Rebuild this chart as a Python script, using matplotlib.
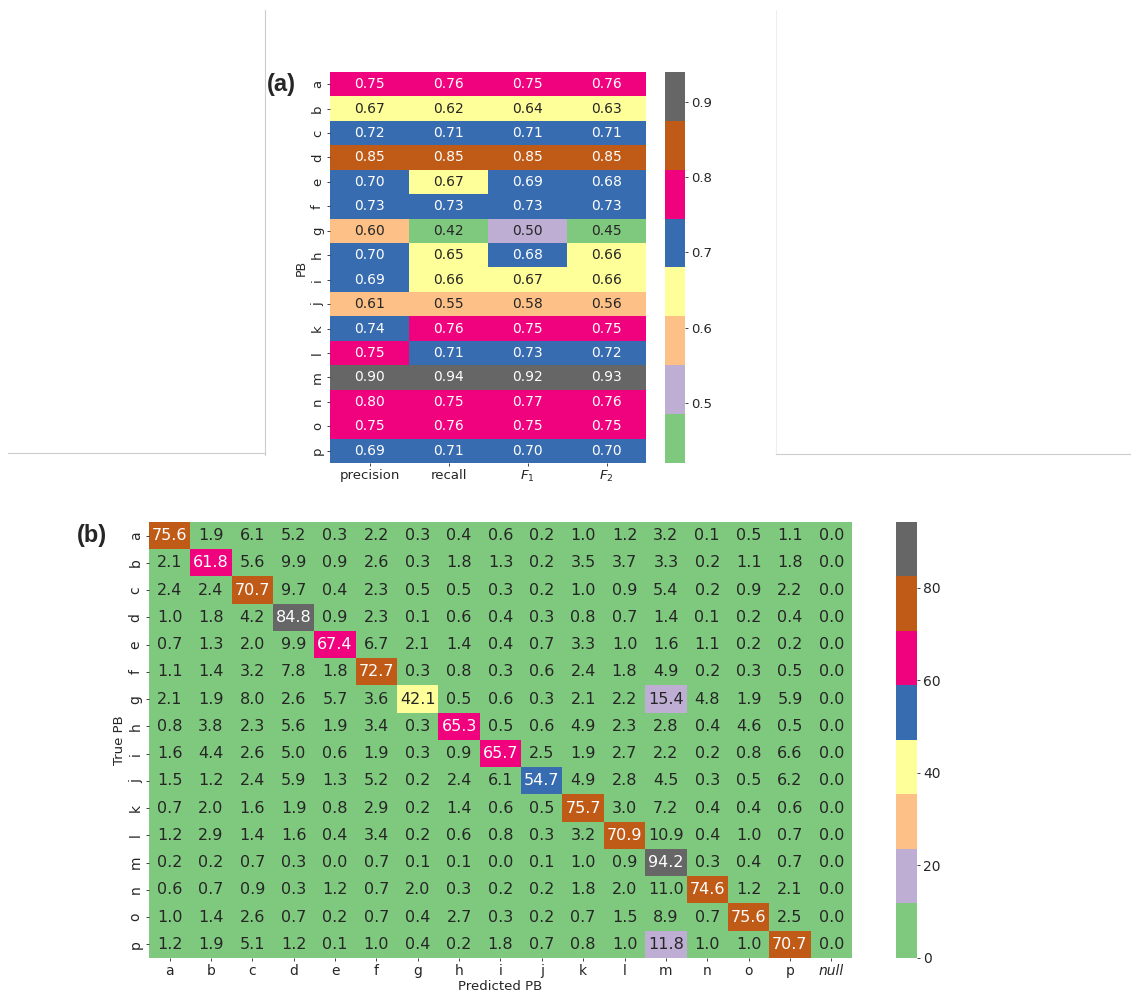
import matplotlib
matplotlib.use("Agg")
import matplotlib.pyplot as plt
from matplotlib.lines import Line2D
import numpy as np
import seaborn as sns

plt.rcParams["font.family"] = ["DejaVu Sans"]
plt.rcParams["text.color"] = "#262626"
plt.rcParams["axes.labelcolor"] = "#262626"
plt.rcParams["xtick.color"] = "#262626"
plt.rcParams["ytick.color"] = "#262626"

PB = list("abcdefghijklmnop")
METRICS = ["precision", "recall", "$F_1$", "$F_2$"]
PRED_LABELS = PB + ["null"]

# per-PB scores: precision, recall, F1, F2
PRECISION = [0.75, 0.67, 0.72, 0.85, 0.70, 0.73, 0.60, 0.70, 0.69, 0.61, 0.74, 0.75, 0.90, 0.80, 0.75, 0.69]
RECALL = [0.76, 0.62, 0.71, 0.85, 0.67, 0.73, 0.42, 0.65, 0.66, 0.55, 0.76, 0.71, 0.94, 0.75, 0.76, 0.71]
F1 = [0.75, 0.64, 0.71, 0.85, 0.69, 0.73, 0.50, 0.68, 0.67, 0.58, 0.75, 0.73, 0.92, 0.77, 0.75, 0.70]
F2 = [0.76, 0.63, 0.71, 0.85, 0.68, 0.73, 0.45, 0.66, 0.66, 0.56, 0.75, 0.72, 0.93, 0.76, 0.75, 0.70]

# confusion matrix (%) rows = true PB, cols = predicted PB + null
CONF = [
    [75.6, 1.9, 6.1, 5.2, 0.3, 2.2, 0.3, 0.4, 0.6, 0.2, 1.0, 1.2, 3.2, 0.1, 0.5, 1.1, 0.0],
    [2.1, 61.8, 5.6, 9.9, 0.9, 2.6, 0.3, 1.8, 1.3, 0.2, 3.5, 3.7, 3.3, 0.2, 1.1, 1.8, 0.0],
    [2.4, 2.4, 70.7, 9.7, 0.4, 2.3, 0.5, 0.5, 0.3, 0.2, 1.0, 0.9, 5.4, 0.2, 0.9, 2.2, 0.0],
    [1.0, 1.8, 4.2, 84.8, 0.9, 2.3, 0.1, 0.6, 0.4, 0.3, 0.8, 0.7, 1.4, 0.1, 0.2, 0.4, 0.0],
    [0.7, 1.3, 2.0, 9.9, 67.4, 6.7, 2.1, 1.4, 0.4, 0.7, 3.3, 1.0, 1.6, 1.1, 0.2, 0.2, 0.0],
    [1.1, 1.4, 3.2, 7.8, 1.8, 72.7, 0.3, 0.8, 0.3, 0.6, 2.4, 1.8, 4.9, 0.2, 0.3, 0.5, 0.0],
    [2.1, 1.9, 8.0, 2.6, 5.7, 3.6, 42.1, 0.5, 0.6, 0.3, 2.1, 2.2, 15.4, 4.8, 1.9, 5.9, 0.0],
    [0.8, 3.8, 2.3, 5.6, 1.9, 3.4, 0.3, 65.3, 0.5, 0.6, 4.9, 2.3, 2.8, 0.4, 4.6, 0.5, 0.0],
    [1.6, 4.4, 2.6, 5.0, 0.6, 1.9, 0.3, 0.9, 65.7, 2.5, 1.9, 2.7, 2.2, 0.2, 0.8, 6.6, 0.0],
    [1.5, 1.2, 2.4, 5.9, 1.3, 5.2, 0.2, 2.4, 6.1, 54.7, 4.9, 2.8, 4.5, 0.3, 0.5, 6.2, 0.0],
    [0.7, 2.0, 1.6, 1.9, 0.8, 2.9, 0.2, 1.4, 0.6, 0.5, 75.7, 3.0, 7.2, 0.4, 0.4, 0.6, 0.0],
    [1.2, 2.9, 1.4, 1.6, 0.4, 3.4, 0.2, 0.6, 0.8, 0.3, 3.2, 70.9, 10.9, 0.4, 1.0, 0.7, 0.0],
    [0.2, 0.2, 0.7, 0.3, 0.0, 0.7, 0.1, 0.1, 0.0, 0.1, 1.0, 0.9, 94.2, 0.3, 0.4, 0.7, 0.0],
    [0.6, 0.7, 0.9, 0.3, 1.2, 0.7, 2.0, 0.3, 0.2, 0.2, 1.8, 2.0, 11.0, 74.6, 1.2, 2.1, 0.0],
    [1.0, 1.4, 2.6, 0.7, 0.2, 0.7, 0.4, 2.7, 0.3, 0.2, 0.7, 1.5, 8.9, 0.7, 75.6, 2.5, 0.0],
    [1.2, 1.9, 5.1, 1.2, 0.1, 1.0, 0.4, 0.2, 1.8, 0.7, 0.8, 1.0, 11.8, 1.0, 1.0, 70.7, 0.0],
]


def style_ticks(ax, size):
    ax.tick_params(axis="both", labelsize=size, length=2.5, pad=2, width=0.6)
    ax.tick_params(axis="x", rotation=0)
    for t in ax.get_yticklabels():
        t.set_rotation(90)
        t.set_va("center")


def draw_scores(fig):
    ax = fig.add_axes([0.2918, 0.5333, 0.2794, 0.3942])
    cax = fig.add_axes([0.588, 0.5333, 0.0177, 0.3942])
    scores = np.array([PRECISION, RECALL, F1, F2]).T
    sns.heatmap(scores, ax=ax, cbar_ax=cax, cmap="Accent", annot=True, fmt=".2f",
                annot_kws={"fontsize": 10}, xticklabels=METRICS, yticklabels=PB)
    ax.set_ylabel("PB", fontsize=9, labelpad=2)
    style_ticks(ax, 9.5)
    cax.tick_params(labelsize=9.5, length=2.5, pad=2, width=0.6)
    cax.set_yticks([0.5, 0.6, 0.7, 0.8, 0.9])
    fig.text(0.236, 0.915, "(a)", fontsize=17, fontweight="bold",
             family="Liberation Sans", va="center")


def draw_confusion(fig):
    ax = fig.add_axes([0.1317, 0.0343, 0.6216, 0.4395])
    cax = fig.add_axes([0.7922, 0.0343, 0.0186, 0.4395])
    sns.heatmap(np.array(CONF), ax=ax, cbar_ax=cax, cmap="Accent", annot=True, fmt=".1f",
                annot_kws={"fontsize": 11.5}, xticklabels=PRED_LABELS, yticklabels=PB)
    ax.set_xlabel("Predicted PB", fontsize=9.5, labelpad=1)
    ax.set_ylabel("True PB", fontsize=9.5, labelpad=2)
    style_ticks(ax, 10)
    ax.get_xticklabels()[-1].set_fontstyle("italic")
    cax.tick_params(labelsize=10, length=2.5, pad=2, width=0.6)
    cax.set_yticks([0, 20, 40, 60, 80])
    fig.text(0.068, 0.46, "(b)", fontsize=17, fontweight="bold",
             family="Liberation Sans", va="center")


def draw_frames(fig):
    c = "#cccccc"
    fig.add_artist(Line2D([265 / 1131, 265 / 1131], [1 - 10 / 992, 1 - 455 / 992],
                          color=c, lw=0.8, transform=fig.transFigure))
    fig.add_artist(Line2D([8 / 1131, 265 / 1131], [1 - 453 / 992, 1 - 453 / 992],
                          color=c, lw=0.8, transform=fig.transFigure))
    fig.add_artist(Line2D([776 / 1131, 776 / 1131], [1 - 10 / 992, 1 - 454 / 992],
                          color="#eeeeee", lw=0.8, transform=fig.transFigure))
    fig.add_artist(Line2D([776 / 1131, 1130 / 1131], [1 - 454 / 992, 1 - 454 / 992],
                          color=c, lw=0.8, transform=fig.transFigure))


def main():
    fig = plt.figure(figsize=(11.31, 9.92), dpi=100)
    draw_frames(fig)
    draw_scores(fig)
    draw_confusion(fig)
    fig.savefig("out.png", dpi=100)


if __name__ == "__main__":
    main()
